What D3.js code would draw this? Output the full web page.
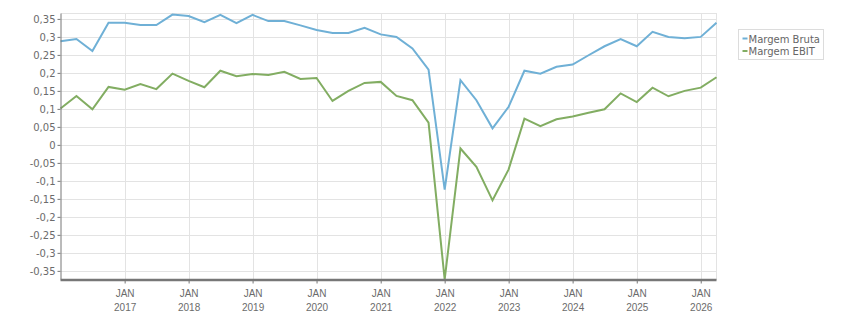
<!DOCTYPE html>
<html>
<head>
<meta charset="utf-8">
<script src="https://cdn.jsdelivr.net/npm/d3@7"></script>
<style>
  html, body { margin: 0; padding: 0; background: #fff; }
  svg { display: block; font-family: "DejaVu Sans", Verdana, sans-serif; }
</style>
</head>
<body>
<div id="chart"></div>
<script>
// quarterly points, first quarter of 2016 to second quarter of 2026
const startDate = new Date(Date.UTC(2016, 0, 1));
const margemBruta = [
  0.288, 0.294, 0.261, 0.339, 0.339, 0.333, 0.333, 0.362, 0.358, 0.341,
  0.361, 0.338, 0.361, 0.344, 0.344, 0.332, 0.319, 0.311, 0.311, 0.325,
  0.307, 0.300, 0.268, 0.209, -0.124, 0.180, 0.124, 0.046, 0.106, 0.206,
  0.198, 0.217, 0.223, 0.249, 0.274, 0.294, 0.274, 0.314, 0.300, 0.296,
  0.300, 0.339
];
const margemEbit = [
  0.101, 0.136, 0.099, 0.161, 0.153, 0.169, 0.155, 0.198, 0.178, 0.160,
  0.206, 0.191, 0.197, 0.194, 0.203, 0.183, 0.186, 0.122, 0.150, 0.172,
  0.175, 0.136, 0.124, 0.062, -0.374, -0.010, -0.061, -0.154, -0.068, 0.073,
  0.052, 0.071, 0.079, 0.089, 0.099, 0.143, 0.119, 0.159, 0.135, 0.150,
  0.159, 0.188
];
const seriesNames = ["Margem Bruta", "Margem EBIT"];
const seriesColors = ["#6fb0d6", "#82ad62"];
const yTicks = [-0.35, -0.3, -0.25, -0.2, -0.15, -0.1, -0.05, 0, 0.05, 0.1, 0.15, 0.2, 0.25, 0.3, 0.35];
const xTickYears = [2017, 2018, 2019, 2020, 2021, 2022, 2023, 2024, 2025, 2026];
const xTickMonth = "JAN";

const width = 851, height = 313;
const margin = { top: 13.5, right: 134.5, bottom: 33.5, left: 60.5 };

const dates = margemBruta.map((_, i) => d3.utcMonth.offset(startDate, i * 3));
const series = [margemBruta, margemEbit].map((vals, k) => ({
  name: seriesNames[k], color: seriesColors[k],
  values: vals.map((v, i) => ({ date: dates[i], value: v }))
}));

const x = d3.scaleUtc().domain(d3.extent(dates)).range([margin.left, width - margin.right]);
const y = d3.scaleLinear().domain([-0.374, 0.365]).range([height - margin.bottom, margin.top]);

const br = d3.formatLocale({ decimal: ",", thousands: ".", grouping: [3], currency: ["", ""], minus: "-" });
const fmt = br.format("~f");

const svg = d3.select("#chart").append("svg").attr("width", width).attr("height", height);

// grid
const grid = svg.append("g").attr("stroke", "#e3e3e3").attr("stroke-width", 1).attr("shape-rendering", "crispEdges");
grid.selectAll(".gy").data(yTicks).enter().append("line")
  .attr("x1", margin.left).attr("x2", width - margin.right)
  .attr("y1", d => Math.round(y(d)) + 0.5).attr("y2", d => Math.round(y(d)) + 0.5);
grid.append("line").attr("x1", margin.left).attr("x2", width - margin.right)
  .attr("y1", margin.top).attr("y2", margin.top);
const yearTicks = xTickYears.map(yr => new Date(Date.UTC(yr, 0, 1)));
grid.selectAll(".gx").data(yearTicks).enter().append("line")
  .attr("x1", d => Math.round(x(d)) + 0.5).attr("x2", d => Math.round(x(d)) + 0.5)
  .attr("y1", margin.top).attr("y2", height - margin.bottom);
grid.append("line").attr("x1", width - margin.right).attr("x2", width - margin.right)
  .attr("y1", margin.top).attr("y2", height - margin.bottom);

// lines
const line = d3.line().x(d => x(d.date)).y(d => y(d.value));
svg.append("g").selectAll("path").data(series).enter().append("path")
  .attr("fill", "none").attr("stroke", d => d.color).attr("stroke-width", 2)
  .attr("stroke-linejoin", "miter").attr("d", d => line(d.values));

// y axis
const yAxis = svg.append("g").attr("transform", `translate(${margin.left},0)`)
  .call(d3.axisLeft(y).tickValues(yTicks).tickFormat(fmt).tickSize(3).tickPadding(2));
yAxis.select(".domain").attr("stroke", "#777").attr("d", `M0.5,${margin.top}V${height - margin.bottom}`);
yAxis.selectAll(".tick line").attr("stroke", "#777");
yAxis.selectAll("text").attr("fill", "#6b6b6b").style("font-size", "10px")
  .attr("font-family", "DejaVu Sans, sans-serif");

// x axis
const xAxis = svg.append("g").attr("transform", `translate(0,${height - margin.bottom})`)
  .call(d3.axisBottom(x).tickValues(yearTicks).tickSize(4).tickFormat(""));
xAxis.select(".domain").attr("stroke", "#777").attr("stroke-width", 2.5)
  .attr("d", `M${margin.left},0.5H${width - margin.right}`);
xAxis.selectAll(".tick line").attr("stroke", "#777");
xAxis.selectAll(".tick text").remove();
const xl = xAxis.selectAll(".tick").append("text")
  .attr("fill", "#6b6b6b").attr("text-anchor", "middle").style("font-size", "10px");
xl.append("tspan").attr("x", 0).attr("y", 17).text(xTickMonth);
xl.append("tspan").attr("x", 0).attr("y", 31).text(d => d.getUTCFullYear());

// legend
const lg = svg.append("g").attr("transform", "translate(738.5,29.5)");
lg.append("rect").attr("width", 85).attr("height", 30)
  .attr("fill", "#fff").attr("stroke", "#dcdcdc");
const li = lg.selectAll(".li").data(series).enter().append("g")
  .attr("transform", (d, i) => `translate(0,${9 + i * 12.5})`);
li.append("line").attr("x1", 4).attr("x2", 9).attr("y1", 0).attr("y2", 0)
  .attr("stroke", d => d.color).attr("stroke-width", 2);
li.append("text").attr("x", 10).attr("y", 4).attr("fill", "#666")
  .style("font-size", "10px").text(d => d.name);
</script>
</body>
</html>
